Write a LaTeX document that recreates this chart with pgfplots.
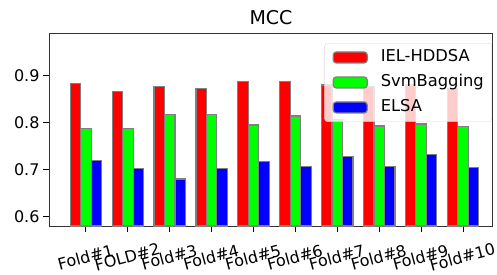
\documentclass[border=0pt]{standalone}
\usepackage{fontspec}
\setmainfont{DejaVu Sans}
\usepackage{pgfplots}
\pgfplotsset{compat=1.18}
\begin{document}
\begin{tikzpicture}
\useasboundingbox (-49bp,-49bp) rectangle (448bp,226bp);
\begin{axis}[
  at={(0,0)}, anchor=south west,
  scale only axis, width=444bp, height=192bp,
  xmin=-0.883, xmax=9.716, ymin=0.580, ymax=0.9887,
  xtick={0,...,9},
  xticklabels={Fold\#1,FOLD\#2,Fold\#3,Fold\#4,Fold\#5,Fold\#6,Fold\#7,Fold\#8,Fold\#9,Fold\#10},
  ytick={0.6,0.7,0.8,0.9},
  /pgf/number format/assume math mode=true,
  yticklabel style={/pgf/number format/.cd, fixed, precision=1, fixed zerofill},
  tick align=outside, xtick pos=left, ytick pos=left,
  major tick length=6bp,
  tick style={black, line width=1bp},
  axis line style={line width=1bp, black!80},
  ticklabel style={font=\fontsize{16bp}{19bp}\selectfont},
  xticklabel style={rotate=15, anchor=center, yshift=-24bp, xshift=-7bp},
  title={MCC},
  title style={font=\fontsize{19bp}{22bp}\selectfont},
  legend style={at={(0.9977,0.953)}, anchor=north east, draw=black!15, rounded corners=3bp,
    fill=white, fill opacity=0.8, text opacity=1, draw opacity=1,
    font=\fontsize{16.3bp}{19bp}\selectfont, row sep=9.5bp, column sep=13bp,
    inner xsep=8bp, inner ysep=6.5bp,
    nodes={inner sep=0bp, text height=12bp, text depth=3.5bp},
    cells={anchor=west}},
  legend image code/.code={\draw[#1, fill opacity=1] (0bp,-5.5bp) rectangle (34bp,5.5bp);},
]
\addplot[ybar, bar width=0.25, bar shift=-0.25, fill=red, draw=gray, line width=1.2bp]
  coordinates {(0,0.884) (1,0.867) (2,0.877) (3,0.872) (4,0.887) (5,0.888) (6,0.880) (7,0.877) (8,0.880) (9,0.872)};
\addplot[ybar, bar width=0.25, bar shift=0, fill=green, draw=gray, line width=1.2bp]
  coordinates {(0,0.787) (1,0.787) (2,0.818) (3,0.818) (4,0.795) (5,0.814) (6,0.807) (7,0.793) (8,0.797) (9,0.792)};
\addplot[ybar, bar width=0.25, bar shift=0.25, fill=blue, draw=gray, line width=1.2bp]
  coordinates {(0,0.720) (1,0.703) (2,0.680) (3,0.703) (4,0.717) (5,0.706) (6,0.728) (7,0.706) (8,0.732) (9,0.704)};
\legend{IEL-HDDSA,SvmBagging,ELSA}
\end{axis}
\end{tikzpicture}
\end{document}
